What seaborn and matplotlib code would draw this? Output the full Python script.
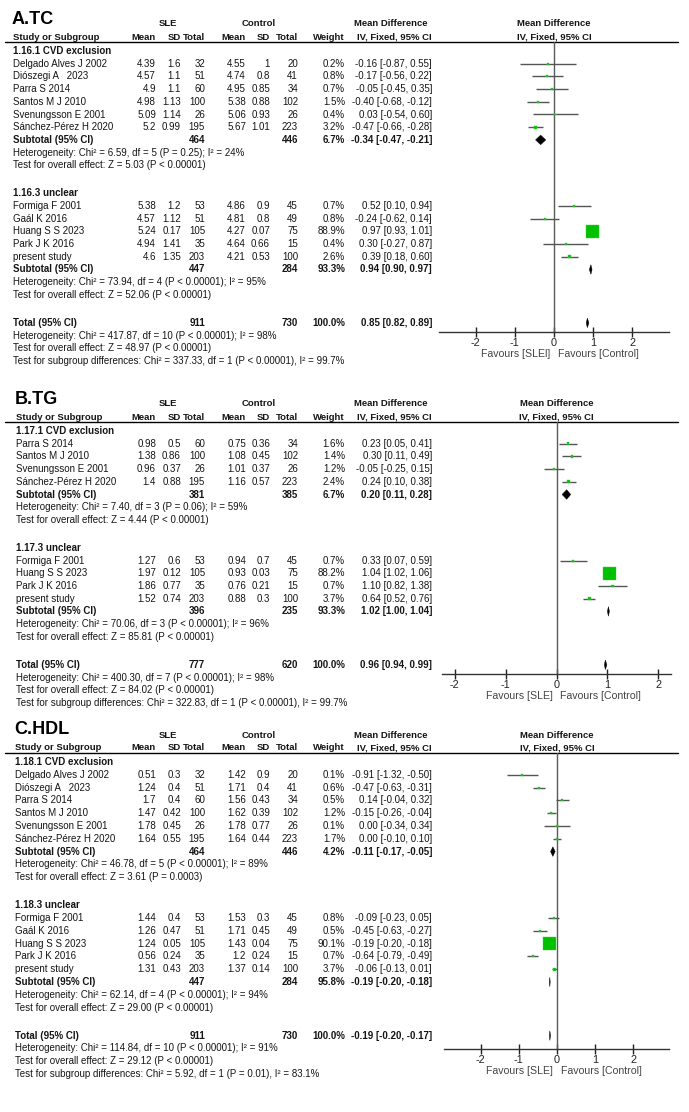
import matplotlib
matplotlib.use('Agg')
import matplotlib.pyplot as plt
import seaborn as sns
import pandas as pd

# A. TC
tc_groups = ['1.16.1 CVD exclusion', '1.16.3 unclear']
tc_study = ['Delgado Alves J 2002', 'Diószegi A   2023', 'Parra S 2014', 'Santos M J 2010',
            'Svenungsson E 2001', 'Sánchez-Pérez H 2020',
            'Formiga F 2001', 'Gaál K 2016', 'Huang S S 2023', 'Park J K 2016', 'present study']
tc_group = [0, 0, 0, 0, 0, 0, 1, 1, 1, 1, 1]
tc_sle_mean = [4.39, 4.57, 4.9, 4.98, 5.09, 5.2, 5.38, 4.57, 5.24, 4.94, 4.6]
tc_sle_sd = [1.6, 1.1, 1.1, 1.13, 1.14, 0.99, 1.2, 1.12, 0.17, 1.41, 1.35]
tc_sle_n = [32, 51, 60, 100, 26, 195, 53, 51, 105, 35, 203]
tc_ctl_mean = [4.55, 4.74, 4.95, 5.38, 5.06, 5.67, 4.86, 4.81, 4.27, 4.64, 4.21]
tc_ctl_sd = [1, 0.8, 0.85, 0.88, 0.93, 1.01, 0.9, 0.8, 0.07, 0.66, 0.53]
tc_ctl_n = [20, 41, 34, 102, 26, 223, 45, 49, 75, 15, 100]
tc_weight = [0.2, 0.8, 0.7, 1.5, 0.4, 3.2, 0.7, 0.8, 88.9, 0.4, 2.6]
tc_md = [-0.16, -0.17, -0.05, -0.40, 0.03, -0.47, 0.52, -0.24, 0.97, 0.30, 0.39]
tc_lo = [-0.87, -0.56, -0.45, -0.68, -0.54, -0.66, 0.10, -0.62, 0.93, -0.27, 0.18]
tc_hi = [0.55, 0.22, 0.35, -0.12, 0.60, -0.28, 0.94, 0.14, 1.01, 0.87, 0.60]
tc_sub_sle_n = [464, 447]
tc_sub_ctl_n = [446, 284]
tc_sub_weight = [6.7, 93.3]
tc_sub_md = [-0.34, 0.94]
tc_sub_lo = [-0.47, 0.90]
tc_sub_hi = [-0.21, 0.97]
tc_sub_het = ['Heterogeneity: Chi² = 6.59, df = 5 (P = 0.25); I² = 24%',
              'Heterogeneity: Chi² = 73.94, df = 4 (P < 0.00001); I² = 95%']
tc_sub_z = ['Test for overall effect: Z = 5.03 (P < 0.00001)',
            'Test for overall effect: Z = 52.06 (P < 0.00001)']
tc_tot_n = [911, 730]
tc_tot_ci = [0.85, 0.82, 0.89]
tc_tot_notes = ['Heterogeneity: Chi² = 417.87, df = 10 (P < 0.00001); I² = 98%',
                'Test for overall effect: Z = 48.97 (P < 0.00001)',
                'Test for subgroup differences: Chi² = 337.33, df = 1 (P < 0.00001), I² = 99.7%']

# B. TG
tg_groups = ['1.17.1 CVD exclusion', '1.17.3 unclear']
tg_study = ['Parra S 2014', 'Santos M J 2010', 'Svenungsson E 2001', 'Sánchez-Pérez H 2020',
            'Formiga F 2001', 'Huang S S 2023', 'Park J K 2016', 'present study']
tg_group = [0, 0, 0, 0, 1, 1, 1, 1]
tg_sle_mean = [0.98, 1.38, 0.96, 1.4, 1.27, 1.97, 1.86, 1.52]
tg_sle_sd = [0.5, 0.86, 0.37, 0.88, 0.6, 0.12, 0.77, 0.74]
tg_sle_n = [60, 100, 26, 195, 53, 105, 35, 203]
tg_ctl_mean = [0.75, 1.08, 1.01, 1.16, 0.94, 0.93, 0.76, 0.88]
tg_ctl_sd = [0.36, 0.45, 0.37, 0.57, 0.7, 0.03, 0.21, 0.3]
tg_ctl_n = [34, 102, 26, 223, 45, 75, 15, 100]
tg_weight = [1.6, 1.4, 1.2, 2.4, 0.7, 88.2, 0.7, 3.7]
tg_md = [0.23, 0.30, -0.05, 0.24, 0.33, 1.04, 1.10, 0.64]
tg_lo = [0.05, 0.11, -0.25, 0.10, 0.07, 1.02, 0.82, 0.52]
tg_hi = [0.41, 0.49, 0.15, 0.38, 0.59, 1.06, 1.38, 0.76]
tg_sub_sle_n = [381, 396]
tg_sub_ctl_n = [385, 235]
tg_sub_weight = [6.7, 93.3]
tg_sub_md = [0.20, 1.02]
tg_sub_lo = [0.11, 1.00]
tg_sub_hi = [0.28, 1.04]
tg_sub_het = ['Heterogeneity: Chi² = 7.40, df = 3 (P = 0.06); I² = 59%',
              'Heterogeneity: Chi² = 70.06, df = 3 (P < 0.00001); I² = 96%']
tg_sub_z = ['Test for overall effect: Z = 4.44 (P < 0.00001)',
            'Test for overall effect: Z = 85.81 (P < 0.00001)']
tg_tot_n = [777, 620]
tg_tot_ci = [0.96, 0.94, 0.99]
tg_tot_notes = ['Heterogeneity: Chi² = 400.30, df = 7 (P < 0.00001); I² = 98%',
                'Test for overall effect: Z = 84.02 (P < 0.00001)',
                'Test for subgroup differences: Chi² = 322.83, df = 1 (P < 0.00001), I² = 99.7%']

# C. HDL
hdl_groups = ['1.18.1 CVD exclusion', '1.18.3 unclear']
hdl_study = ['Delgado Alves J 2002', 'Diószegi A   2023', 'Parra S 2014', 'Santos M J 2010',
             'Svenungsson E 2001', 'Sánchez-Pérez H 2020',
             'Formiga F 2001', 'Gaál K 2016', 'Huang S S 2023', 'Park J K 2016', 'present study']
hdl_group = [0, 0, 0, 0, 0, 0, 1, 1, 1, 1, 1]
hdl_sle_mean = [0.51, 1.24, 1.7, 1.47, 1.78, 1.64, 1.44, 1.26, 1.24, 0.56, 1.31]
hdl_sle_sd = [0.3, 0.4, 0.4, 0.42, 0.45, 0.55, 0.4, 0.47, 0.05, 0.24, 0.43]
hdl_sle_n = [32, 51, 60, 100, 26, 195, 53, 51, 105, 35, 203]
hdl_ctl_mean = [1.42, 1.71, 1.56, 1.62, 1.78, 1.64, 1.53, 1.71, 1.43, 1.2, 1.37]
hdl_ctl_sd = [0.9, 0.4, 0.43, 0.39, 0.77, 0.44, 0.3, 0.45, 0.04, 0.24, 0.14]
hdl_ctl_n = [20, 41, 34, 102, 26, 223, 45, 49, 75, 15, 100]
hdl_weight = [0.1, 0.6, 0.5, 1.2, 0.1, 1.7, 0.8, 0.5, 90.1, 0.7, 3.7]
hdl_md = [-0.91, -0.47, 0.14, -0.15, 0.00, 0.00, -0.09, -0.45, -0.19, -0.64, -0.06]
hdl_lo = [-1.32, -0.63, -0.04, -0.26, -0.34, -0.10, -0.23, -0.63, -0.20, -0.79, -0.13]
hdl_hi = [-0.50, -0.31, 0.32, -0.04, 0.34, 0.10, 0.05, -0.27, -0.18, -0.49, 0.01]
hdl_sub_sle_n = [464, 447]
hdl_sub_ctl_n = [446, 284]
hdl_sub_weight = [4.2, 95.8]
hdl_sub_md = [-0.11, -0.19]
hdl_sub_lo = [-0.17, -0.20]
hdl_sub_hi = [-0.05, -0.18]
hdl_sub_het = ['Heterogeneity: Chi² = 46.78, df = 5 (P < 0.00001); I² = 89%',
               'Heterogeneity: Chi² = 62.14, df = 4 (P < 0.00001); I² = 94%']
hdl_sub_z = ['Test for overall effect: Z = 3.61 (P = 0.0003)',
             'Test for overall effect: Z = 29.00 (P < 0.00001)']
hdl_tot_n = [911, 730]
hdl_tot_ci = [-0.19, -0.20, -0.17]
hdl_tot_notes = ['Heterogeneity: Chi² = 114.84, df = 10 (P < 0.00001); I² = 91%',
                 'Test for overall effect: Z = 29.12 (P < 0.00001)',
                 'Test for subgroup differences: Chi² = 5.92, df = 1 (P = 0.01), I² = 83.1%']

ticks = [-2, -1, 0, 1, 2]

sns.set_style('white')
plt.rcParams['font.family'] = ['Liberation Sans', 'DejaVu Sans']
plt.rcParams['axes.unicode_minus'] = False

W, H = 689, 1112
fig = plt.figure(figsize=(W / 100, H / 100), dpi=100)
bg = fig.add_axes([0, 0, 1, 1])
bg.set_xlim(0, W)
bg.set_ylim(H, 0)
bg.axis('off')

FS = 7.0      # names, notes, CI text
FS_NUM = 7.0  # numeric table columns
FS_HEAD = 6.8
INK = '#151515'
GREEN = '#00c000'
# right edges of the table columns (pixels)
COLS = {'sle_mean': 156, 'sle_sd': 181, 'sle_n': 205, 'ctl_mean': 246,
        'ctl_sd': 270, 'ctl_n': 298, 'weight': 345, 'md': 432}


def fmt(v):
    return '{:g}'.format(v)


def ci(m, lo, hi):
    return '{:.2f} [{:.2f}, {:.2f}]'.format(m, lo, hi)


def txt(x, y, s, ha='left', bold=False, color=INK, size=FS):
    bg.text(x, y, s, ha=ha, va='center', fontsize=size, color=color,
            fontweight='bold' if bold else 'normal')


def draw_panel(p, first_y, step, axis_y, ax_px, xlim, name_x, fav_left):
    gap = 28
    under_y = first_y - 9
    head2_y = first_y - 14
    head1_y = first_y - 27
    title_y = first_y - 32
    zero_px = ax_px[0] + (0 - xlim[0]) / (xlim[1] - xlim[0]) * (ax_px[1] - ax_px[0])

    # header
    bg.text(name_x - 1, title_y, p['title'], fontsize=13, fontweight='bold',
            va='center', color='black')
    txt(168, head1_y, 'SLE', ha='center', bold=True, size=FS_HEAD)
    txt(259, head1_y, 'Control', ha='center', bold=True, size=FS_HEAD)
    txt(391, head1_y, 'Mean Difference', ha='center', bold=True, size=FS_HEAD)
    txt(zero_px, head1_y, 'Mean Difference', ha='center', bold=True, size=FS_HEAD)
    txt(name_x, head2_y, 'Study or Subgroup', bold=True, size=FS_HEAD)
    for key, lab in [('sle_mean', 'Mean'), ('sle_sd', 'SD'), ('sle_n', 'Total'),
                     ('ctl_mean', 'Mean'), ('ctl_sd', 'SD'), ('ctl_n', 'Total'),
                     ('weight', 'Weight'), ('md', 'IV, Fixed, 95% CI')]:
        txt(COLS[key], head2_y, lab, ha='right', bold=True, size=FS_HEAD)
    txt(zero_px, head2_y, 'IV, Fixed, 95% CI', ha='center', bold=True, size=FS_HEAD)
    bg.plot([5, 678], [under_y, under_y], color='black', lw=1)

    # rows
    y = first_y
    study_y, sub_y = [], []
    for g, gname in enumerate(p['groups']):
        txt(name_x, y, gname, bold=True)
        y += step
        for i, gi in enumerate(p['group']):
            if gi != g:
                continue
            study_y.append(y)
            txt(name_x, y, p['study'][i])
            for key in ['sle_mean', 'sle_sd', 'sle_n', 'ctl_mean', 'ctl_sd', 'ctl_n']:
                txt(COLS[key], y, fmt(p[key][i]), ha='right', size=FS_NUM)
            txt(COLS['weight'], y, '{:.1f}%'.format(p['weight'][i]), ha='right', size=FS_NUM)
            txt(COLS['md'], y, ci(p['md'][i], p['lo'][i], p['hi'][i]), ha='right')
            y += step
        sub_y.append(y)
        txt(name_x, y, 'Subtotal (95% CI)', bold=True)
        txt(COLS['sle_n'], y, str(p['sub_sle_n'][g]), ha='right', bold=True, size=FS_NUM)
        txt(COLS['ctl_n'], y, str(p['sub_ctl_n'][g]), ha='right', bold=True, size=FS_NUM)
        txt(COLS['weight'], y, '{:.1f}%'.format(p['sub_weight'][g]), ha='right',
            bold=True, size=FS_NUM)
        txt(COLS['md'], y, ci(p['sub_md'][g], p['sub_lo'][g], p['sub_hi'][g]),
            ha='right', bold=True)
        txt(name_x, y + step, p['sub_het'][g])
        txt(name_x, y + 2 * step, p['sub_z'][g])
        y += 2 * step + gap

    tot_y = y
    txt(name_x, tot_y, 'Total (95% CI)', bold=True)
    txt(COLS['sle_n'], tot_y, str(p['tot_n'][0]), ha='right', bold=True, size=FS_NUM)
    txt(COLS['ctl_n'], tot_y, str(p['tot_n'][1]), ha='right', bold=True, size=FS_NUM)
    txt(COLS['weight'], tot_y, '100.0%', ha='right', bold=True, size=FS_NUM)
    txt(COLS['md'], tot_y, ci(*p['tot_ci']), ha='right', bold=True)
    for k, note in enumerate(p['tot_notes']):
        txt(name_x, tot_y + (k + 1) * step, note)

    # forest
    ax = fig.add_axes([ax_px[0] / W, 1 - axis_y / H, (ax_px[1] - ax_px[0]) / W,
                       (axis_y - under_y) / H])
    ax.patch.set_alpha(0)
    df = pd.DataFrame({'md': p['md'], 'y': study_y, 'weight': p['weight']})
    ax.axvline(0, color='#5a5a5a', lw=1, zorder=1)
    ax.hlines(df['y'], p['lo'], p['hi'], color='#555555', lw=1, zorder=2)
    sns.scatterplot(data=df, x='md', y='y', size='weight', sizes=(1.5, 98),
                    size_norm=(0, 100), marker='s', color=GREEN,
                    edgecolor='#40d040', linewidth=0.3, legend=False, ax=ax, zorder=3)
    dia = list(zip(p['sub_md'], p['sub_lo'], p['sub_hi'], sub_y))
    dia.append((p['tot_ci'][0], p['tot_ci'][1], p['tot_ci'][2], tot_y))
    for m, lo, hi, yy in dia:
        ax.fill([lo, m, hi, m], [yy, yy - 4.8, yy, yy + 4.8], color='black',
                lw=0.3, zorder=4)
    ax.set_xlim(*xlim)
    ax.set_ylim(axis_y, under_y)
    ax.set(xlabel='', ylabel='')
    ax.set_yticks([])
    ax.set_xticks(ticks)
    ax.set_xticklabels([str(t) for t in ticks])
    ax.tick_params(axis='x', bottom=True, direction='inout', length=7, width=1,
                   colors='#222222', labelsize=7.8, pad=0.5)
    for side in ['left', 'right', 'top']:
        ax.spines[side].set_visible(False)
    ax.spines['bottom'].set_color('#333333')
    ax.spines['bottom'].set_linewidth(1)

    txt(zero_px - 4, axis_y + 22, fav_left, ha='right', color='#444444', size=7.6)
    txt(zero_px + 4, axis_y + 22, 'Favours [Control]', color='#444444', size=7.6)


tc = dict(title='A.TC', groups=tc_groups, study=tc_study, group=tc_group,
          sle_mean=tc_sle_mean, sle_sd=tc_sle_sd, sle_n=tc_sle_n,
          ctl_mean=tc_ctl_mean, ctl_sd=tc_ctl_sd, ctl_n=tc_ctl_n,
          weight=tc_weight, md=tc_md, lo=tc_lo, hi=tc_hi,
          sub_sle_n=tc_sub_sle_n, sub_ctl_n=tc_sub_ctl_n, sub_weight=tc_sub_weight,
          sub_md=tc_sub_md, sub_lo=tc_sub_lo, sub_hi=tc_sub_hi,
          sub_het=tc_sub_het, sub_z=tc_sub_z,
          tot_n=tc_tot_n, tot_ci=tc_tot_ci, tot_notes=tc_tot_notes)
tg = dict(title='B.TG', groups=tg_groups, study=tg_study, group=tg_group,
          sle_mean=tg_sle_mean, sle_sd=tg_sle_sd, sle_n=tg_sle_n,
          ctl_mean=tg_ctl_mean, ctl_sd=tg_ctl_sd, ctl_n=tg_ctl_n,
          weight=tg_weight, md=tg_md, lo=tg_lo, hi=tg_hi,
          sub_sle_n=tg_sub_sle_n, sub_ctl_n=tg_sub_ctl_n, sub_weight=tg_sub_weight,
          sub_md=tg_sub_md, sub_lo=tg_sub_lo, sub_hi=tg_sub_hi,
          sub_het=tg_sub_het, sub_z=tg_sub_z,
          tot_n=tg_tot_n, tot_ci=tg_tot_ci, tot_notes=tg_tot_notes)
hdl = dict(title='C.HDL', groups=hdl_groups, study=hdl_study, group=hdl_group,
           sle_mean=hdl_sle_mean, sle_sd=hdl_sle_sd, sle_n=hdl_sle_n,
           ctl_mean=hdl_ctl_mean, ctl_sd=hdl_ctl_sd, ctl_n=hdl_ctl_n,
           weight=hdl_weight, md=hdl_md, lo=hdl_lo, hi=hdl_hi,
           sub_sle_n=hdl_sub_sle_n, sub_ctl_n=hdl_sub_ctl_n, sub_weight=hdl_sub_weight,
           sub_md=hdl_sub_md, sub_lo=hdl_sub_lo, sub_hi=hdl_sub_hi,
           sub_het=hdl_sub_het, sub_z=hdl_sub_z,
           tot_n=hdl_tot_n, tot_ci=hdl_tot_ci, tot_notes=hdl_tot_notes)

draw_panel(tc, 51, 12.7, 332, (439, 669), (-2.93, 2.93), 13, 'Favours [SLEl]')
draw_panel(tg, 431, 12.7, 674, (442, 671), (-2.25, 2.25), 16, 'Favours [SLE]')
draw_panel(hdl, 762, 12.8, 1049, (444, 669), (-2.96, 2.93), 15, 'Favours [SLE]')

fig.savefig('out.png', dpi=100)
